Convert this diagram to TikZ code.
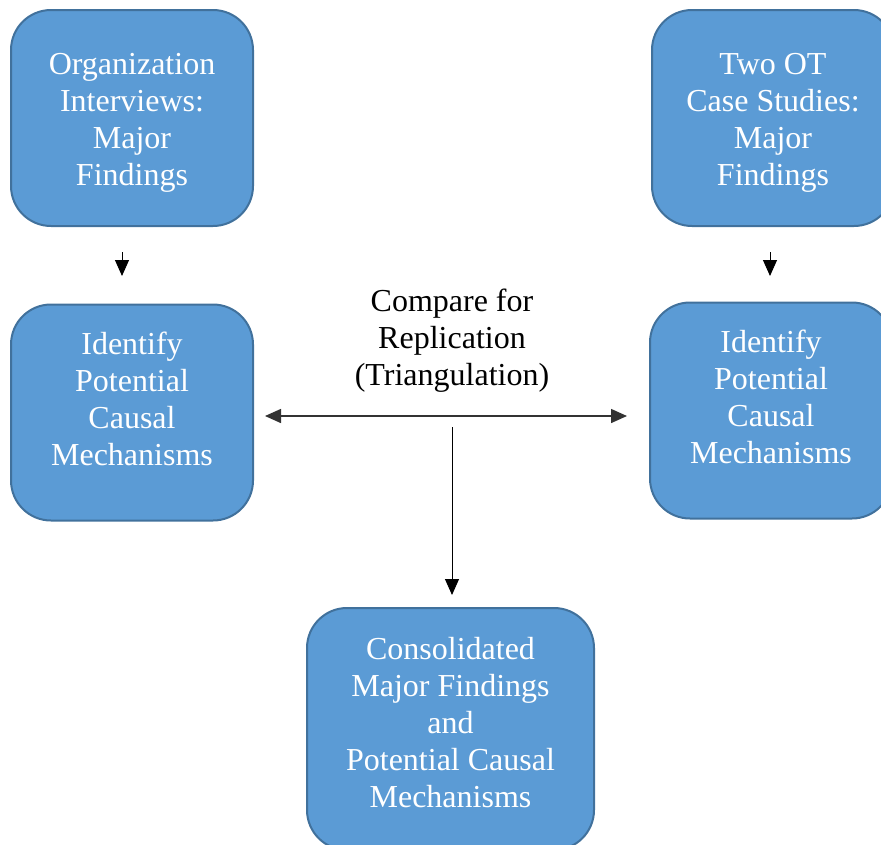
\documentclass[tikz,border=0pt]{standalone}
\usepackage{fontspec}
\setmainfont{Liberation Serif}
\usetikzlibrary{arrows.meta,positioning}
\definecolor{boxfill}{HTML}{5B9BD5}
\definecolor{boxline}{HTML}{41719C}

\begin{document}
\begin{tikzpicture}[
    x=1pt, y=-1pt,
    every node/.style={
        align=center,
        font=\rmfamily\fontsize{32}{37}\selectfont
    },
    stage/.style={
        draw=boxline, fill=boxfill,
        line width=2pt,
        rounded corners=40pt,
        inner sep=0pt,
        minimum width=242pt,
        minimum height=216pt
    },
    stagetext/.style={text=white},
    flow/.style={-{Triangle[length=16pt,width=14pt]}, line width=1pt},
    twoway/.style={{Triangle[length=16pt,width=14pt]}-{Triangle[length=16pt,width=14pt]},
        line width=1.5pt, black!80}
]
\useasboundingbox (0,0) rectangle (881,844);
\clip (0,0) rectangle (881,844);

% boxes
\node[stage] (orgfind) at (132,118) {};
\node[stage] (casefind) at (773,118) {};
\node[stage] (orgmech) at (132,412.5) {};
\node[stage] (casemech) at (771,410.5) {};
\node[stage, minimum width=287pt, minimum height=242pt] (merged) at (450.5,729) {};

% box texts
\node[stagetext] (orgfindtxt) at ([yshift=-5pt]orgfind.center) {Organization\\Interviews:\\Major\\Findings};
\node[stagetext] (casefindtxt) at ([yshift=-5pt]casefind.center) {Two OT\\Case Studies:\\Major\\Findings};
\node[stagetext] (orgmechtxt) at ([yshift=14pt]orgmech.center) {Identify\\Potential\\Causal\\Mechanisms};
\node[stagetext] (casemechtxt) at ([yshift=14pt]casemech.center) {Identify\\Potential\\Causal\\Mechanisms};
\node[stagetext] (mergedtxt) at ([yshift=6pt]merged.center)
    {Consolidated\\Major Findings\\and\\Potential Causal\\Mechanisms};

\node (compare) at (452,341) {Compare for\\Replication\\(Triangulation)};

\coordinate (a1) at (122,252);
\coordinate (a2) at (122,276);
\coordinate (b1) at (770,252);
\coordinate (b2) at (770,276);
\coordinate (hl) at (265,416);
\coordinate (hr) at (627,416);
\coordinate (v1) at (452,427);
\coordinate (v2) at (452,595);

\draw[flow] (a1) -- (a2);
\draw[flow] (b1) -- (b2);
\draw[twoway] (hl) -- (hr);
\draw[flow] (v1) -- (v2);
\end{tikzpicture}
\end{document}
